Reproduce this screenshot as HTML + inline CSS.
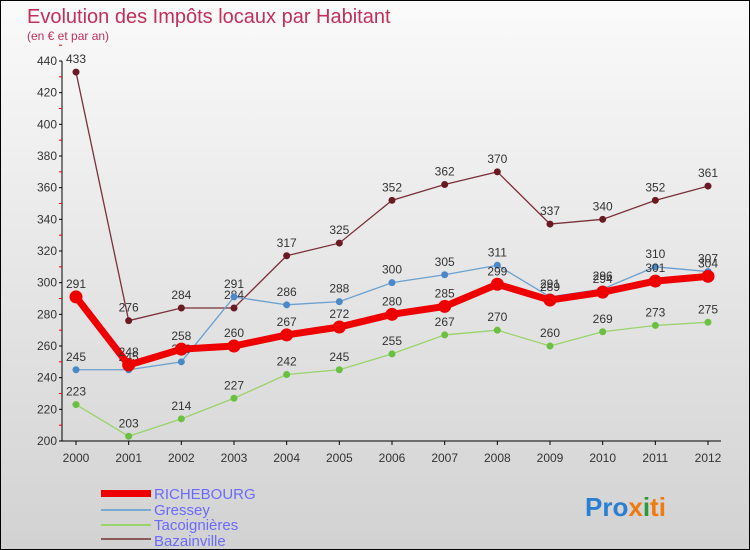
<!DOCTYPE html>
<html><head><meta charset="utf-8"><style>
body{margin:0}
#c{width:748px;height:548px;border:1px solid #000;background:linear-gradient(#fafafa,#d2d2d2);position:relative;font-family:"Liberation Sans","DejaVu Sans",sans-serif;overflow:hidden}
</style></head><body>
<div id="c">
<svg id="s" width="748" height="548">
<text x="26" y="22" font-size="20" fill="#c0305a">Evolution des Impôts locaux par Habitant</text>
<text x="26" y="39" font-size="12" fill="#c0305a">(en € et par an)</text>
<g id="axes"></g><g id="series"></g>
<g>
<rect x="100" y="489" width="50" height="7" fill="#e00"/>
<text x="153" y="498" font-size="15" fill="#6a6aff">RICHEBOURG</text>
<rect x="100" y="508" width="50" height="2" fill="#7aa8cf"/>
<text x="153" y="514" font-size="15" fill="#6a6aff">Gressey</text>
<rect x="100" y="523" width="50" height="2" fill="#99d36a"/>
<text x="153" y="529" font-size="15" fill="#6a6aff">Tacoignières</text>
<rect x="100" y="537" width="50" height="2" fill="#8a5a5a"/>
<text x="153" y="545" font-size="15" fill="#6a6aff">Bazainville</text>
</g>
<text x="584" y="515" font-size="26" font-weight="bold"><tspan fill="#2a7fd0">Pro</tspan><tspan fill="#f07a10">x</tspan><tspan fill="#2a9a3a">i</tspan><tspan fill="#f07a10">ti</tspan></text>
</svg></div>
<script>
const years=[2000,2001,2002,2003,2004,2005,2006,2007,2008,2009,2010,2011,2012];
const yTicks=[200,220,240,260,280,300,320,340,360,380,400,420,440];
const richebourg=[291,248,258,260,267,272,280,285,299,289,294,301,304];
const gressey=[245,245,250,291,286,288,300,305,311,291,296,310,307];
const tacoignieres=[223,203,214,227,242,245,255,267,270,260,269,273,275];
const bazainville=[433,276,284,284,317,325,352,362,370,337,340,352,361];
const NS="http://www.w3.org/2000/svg";
const X=i=>75+i*(632/12), Y=v=>440-(v-200)*380/240;
function mk(t,a,p){const e=document.createElementNS(NS,t);for(const k in a)e.setAttribute(k,a[k]);p.appendChild(e);return e;}
const ax=document.getElementById('axes'), sg=document.getElementById('series');
let yl=mk('line',{x1:61,y1:60,x2:61,y2:440,stroke:'#000'},ax);


let xl=mk('line',{x1:61,y1:440,x2:720,y2:440,stroke:'#000'},ax);


yTicks.forEach(v=>{
  mk('line',{x1:58,y1:Y(v),x2:61,y2:Y(v),stroke:'#000'},ax);
  mk('line',{x1:58,y1:Y(v+10),x2:61,y2:Y(v+10),stroke:'#e00'},ax);
  const t=mk('text',{x:56,y:Y(v)+4,'font-size':12,fill:'#333','text-anchor':'end'},ax);
  t.textContent=v;
  
  
});
years.forEach((y,i)=>{
  mk('line',{x1:X(i),y1:440,x2:X(i),y2:444,stroke:'#000'},ax);
  const t=mk('text',{x:X(i),y:461,'font-size':12,fill:'#333','text-anchor':'middle'},ax);
  t.textContent=y;
  
  
});
function series(d,col,dot,w,r,name){
  const g=mk('g',{},sg);
  
  
  const p=mk('polyline',{points:d.map((v,i)=>X(i)+','+Y(v)).join(' '),fill:'none',stroke:col,'stroke-width':w},g);
  
  
  d.forEach((v,i)=>{
    const c=mk('circle',{cx:X(i),cy:Y(v),r:r,fill:dot},g);
    
    
    const t=mk('text',{x:X(i),y:Y(v)-9,'font-size':12,fill:'#333','text-anchor':'middle'},g);
    t.textContent=v;
    
    
  });
}
series(tacoignieres,'#99d36a','#6ac040',1.3,3.5,'tacoignieres');
series(bazainville,'#7a3038','#6a1a22',1.3,3.5,'bazainville');
series(gressey,'#6aa0d0','#4a88c8',1.3,3.5,'gressey');
series(richebourg,'#ee0000','#ee0000',7,6.5,'richebourg');
</script>
</body></html>
